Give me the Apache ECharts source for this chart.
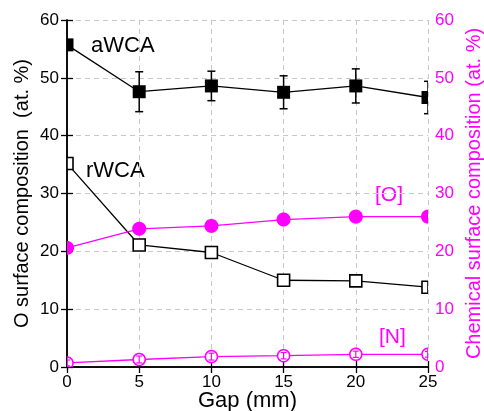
<!DOCTYPE html>
<html><head><meta charset="utf-8">
<script src="https://cdn.jsdelivr.net/npm/echarts@6/dist/echarts.min.js"></script>
<style>html,body{margin:0;padding:0;background:#fff}#c{width:484px;height:411px}</style>
</head><body><div id="c"></div>
<script>
const gap = [0, 5, 10, 15, 20, 25];
const xTicks = [0, 5, 10, 15, 20, 25];
const yTicks = [0, 10, 20, 30, 40, 50, 60];
const aWCA = [55.7, 47.6, 48.6, 47.5, 48.6, 46.6];
const aWCAErr = [0, 3.45, 2.55, 2.85, 2.95, 2.8];
const rWCA = [35.2, 21.1, 19.8, 15.0, 14.9, 13.8];
const O = [20.6, 23.9, 24.4, 25.5, 26.0, 26.0];
const N = [0.7, 1.3, 1.8, 1.95, 2.2, 2.2];
const NErr = [0.5, 0.6, 0.6, 0.55, 0.55, 0.5];

const MAG = '#ff00ff';
const FONT = 'Liberation Sans';

function pairs(ys) { return gap.map((x, i) => [x, ys[i]]); }
function withErr(ys, es) { return gap.map((x, i) => [x, ys[i], es[i]]); }

function markerSeries(data, yAxisIndex, kind, size, color, hasErr, capW, z) {
  return {
    type: 'custom', yAxisIndex: yAxisIndex, clip: true, z: z, silent: true,
    data: data,
    renderItem: function (params, api) {
      const cs = params.coordSys;
      const X0 = cs.x, X1 = cs.x + cs.width, Y0 = cs.y, Y1 = cs.y + cs.height;
      const cx = v => Math.min(X1, Math.max(X0, v));
      const cy = v => Math.min(Y1, Math.max(Y0, v));
      const x = api.value(0), y = api.value(1), e = api.value(2) || 0;
      const p = api.coord([x, y]);
      const children = [];
      function seg(x1, y1, x2, y2, st) {
        children.push({ type: 'line', shape: { x1: cx(x1), y1: cy(y1), x2: cx(x2), y2: cy(y2) }, style: st });
      }
      function errBars(w, lw) {
        const pt = api.coord([x, y + e]), pb = api.coord([x, y - e]);
        const st = { stroke: color, lineWidth: lw, fill: null };
        seg(p[0], pt[1], p[0], pb[1], st);
        seg(p[0] - w / 2, pt[1], p[0] + w / 2, pt[1], st);
        seg(p[0] - w / 2, pb[1], p[0] + w / 2, pb[1], st);
      }
      function circlePts(r) {
        const pts = [];
        for (let k = 0; k < 48; k++) {
          const a = k / 48 * Math.PI * 2;
          pts.push([cx(p[0] + r * Math.cos(a)), cy(p[1] + r * Math.sin(a))]);
        }
        return pts;
      }
      if (hasErr && e > 0) errBars(capW, 1.5);
      const h = size / 2;
      if (kind === 'fsq' || kind === 'osq') {
        const l = cx(p[0] - h), r = cx(p[0] + h), t = cy(p[1] - h), b = cy(p[1] + h);
        const style = kind === 'fsq' ? { fill: color } : { fill: '#fff', stroke: color, lineWidth: 1.6 };
        children.push({ type: 'polygon', shape: { points: [[l, t], [r, t], [r, b], [l, b]] }, style: style });
      } else if (kind === 'fci') {
        children.push({ type: 'polygon', shape: { points: circlePts(h) }, style: { fill: color } });
      } else if (kind === 'oci') {
        children.push({ type: 'polygon', shape: { points: circlePts(h) }, style: { fill: '#fff', stroke: color, lineWidth: 1.6 } });
        if (e > 0) errBars(6, 1.2);
      }
      return { type: 'group', children: children };
    }
  };
}

function lineSeries(ys, yAxisIndex, color) {
  return {
    type: 'line', yAxisIndex: yAxisIndex, data: pairs(ys), showSymbol: false, symbol: 'none',
    lineStyle: { color: color, width: 1.3 }, z: 2, silent: true, animation: false
  };
}

const chart = echarts.init(document.getElementById('c'), null, { renderer: 'canvas' });
chart.setOption({
  animation: false,
  backgroundColor: '#fff',
  grid: { left: 67, right: 56, top: 20, bottom: 44, containLabel: false, outerBoundsMode: 'none' },
  xAxis: [{
    type: 'value', min: xTicks[0], max: xTicks[xTicks.length - 1], interval: 5,
    name: 'Gap (mm)', nameLocation: 'middle', nameGap: 23, nameMoveOverlap: false,
    nameTextStyle: { fontFamily: FONT, fontSize: 22, color: '#000' },
    axisLine: { lineStyle: { color: '#000', width: 1.5 } },
    axisTick: { inside: true, length: 6, lineStyle: { color: '#000', width: 1.3 } },
    axisLabel: { fontFamily: FONT, fontSize: 17, color: '#000', margin: 7 },
    splitLine: { show: true, lineStyle: { color: '#c8c8c8', type: [5, 4], width: 1 } }
  }, {
    type: 'value', position: 'top', min: xTicks[0], max: xTicks[xTicks.length - 1], interval: 5,
    axisLine: { lineStyle: { color: '#000', width: 1.5 } },
    axisTick: { inside: true, length: 6, lineStyle: { color: '#000', width: 1.3 } },
    axisLabel: { show: false }, splitLine: { show: false }
  }],
  yAxis: [{
    type: 'value', min: yTicks[0], max: yTicks[yTicks.length - 1], interval: 10,
    name: 'O surface composition  (at. %)', nameLocation: 'middle', nameGap: 35, nameRotate: 90, nameMoveOverlap: false,
    nameTextStyle: { fontFamily: FONT, fontSize: 20, color: '#000' },
    axisLine: { show: true, lineStyle: { color: '#000', width: 1.5 } },
    axisTick: { show: true, inside: true, length: 6, lineStyle: { color: '#000', width: 1.3 } },
    axisLabel: { fontFamily: FONT, fontSize: 17, color: '#000', margin: 8 },
    splitLine: { show: true, lineStyle: { color: '#c8c8c8', type: [5, 4], width: 1 } }
  }, {
    type: 'value', position: 'right', min: yTicks[0], max: yTicks[yTicks.length - 1], interval: 10,
    name: 'Chemical surface composition (at. %)', nameLocation: 'middle', nameGap: 36, nameRotate: 90, nameMoveOverlap: false,
    nameTextStyle: { fontFamily: FONT, fontSize: 20, color: MAG },
    axisLine: { show: true, lineStyle: { color: '#000', width: 1.5 } },
    axisTick: { show: true, inside: true, length: 6, lineStyle: { color: '#000', width: 1.3 } },
    axisLabel: { fontFamily: FONT, fontSize: 17, color: MAG, margin: 7 },
    splitLine: { show: false }
  }],
  series: [
    lineSeries(aWCA, 0, '#000'),
    lineSeries(rWCA, 0, '#000'),
    lineSeries(O, 1, MAG),
    lineSeries(N, 1, MAG),
    markerSeries(withErr(aWCA, aWCAErr), 0, 'fsq', 13, '#000', true, 8, 5),
    markerSeries(pairs(rWCA), 0, 'osq', 12, '#000', false, 0, 5),
    markerSeries(pairs(O), 1, 'fci', 14, MAG, false, 0, 5),
    markerSeries(withErr(N, NErr), 1, 'oci', 12, MAG, false, 0, 5)
  ],
  graphic: [
    { type: 'text', left: 91, top: 35, style: { text: 'aWCA', font: '22px "Liberation Sans"', fill: '#000' } },
    { type: 'text', left: 86, top: 160, style: { text: 'rWCA', font: '22px "Liberation Sans"', fill: '#000' } },
    { type: 'text', left: 375, top: 185, style: { text: '[O]', font: '21px "Liberation Sans"', fill: MAG } },
    { type: 'text', left: 379, top: 327, style: { text: '[N]', font: '21px "Liberation Sans"', fill: MAG } }
  ]
});
</script></body></html>
